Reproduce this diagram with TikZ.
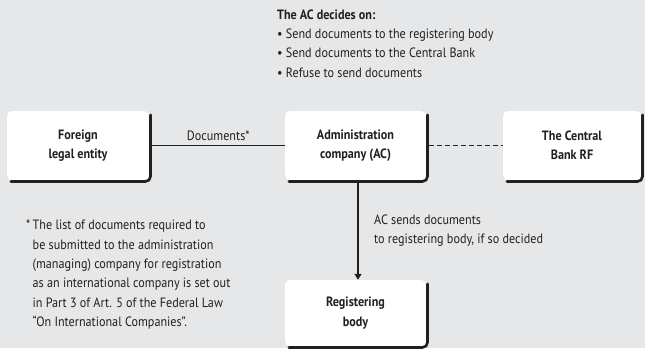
\documentclass[tikz,border=0pt]{standalone}
\usepackage{fontspec}
\setmainfont{PT Sans}[FakeStretch=0.9]
\usetikzlibrary{arrows.meta}
\definecolor{bg}{HTML}{E6E7E8}
\definecolor{txt}{HTML}{231F20}
\newcommand{\basefont}{\fontsize{13.5}{19.3}\selectfont}
\tikzset{
  box/.style={fill=white, rounded corners=5pt, inner sep=0pt, align=center,
    minimum width=141pt, minimum height=69pt, font=\basefont\bfseries},
  shadowline/.style={draw=txt, line width=2.6pt, rounded corners=5pt, line cap=round},
  txtblock/.style={inner sep=0pt, align=left, anchor=north west},
  conn/.style={line width=1.6pt, draw=txt}
}
\begin{document}
\begin{tikzpicture}[x=1pt,y=-1pt, font=\basefont, text=txt]
\fill[bg] (0,0) rectangle (645,348);
\useasboundingbox (0,0) rectangle (645,348);

\node[box, minimum width=142pt] (fe) at (78,145.5) {Foreign\\legal entity};
\node[box] (ac) at (355.5,145.5) {Administration\\company (AC)};
\node[box, minimum width=138pt] (cb) at (572,145.5) {The Central\\Bank RF};
\node[box, minimum height=66pt] (rb) at (355.5,313) {Registering\\body};

% shadow edges (right and bottom)
\foreach \n in {fe,ac,cb,rb}{
  \draw[shadowline] ([shift={(1.3pt,-4pt)}]\n.north east)
    -- ([shift={(1.3pt,-1.3pt)}]\n.south east)
    -- ([shift={(4pt,-1.3pt)}]\n.south west);
}

\draw[conn] ([xshift=2.6pt]fe.east) -- node[above=4pt, inner sep=0pt] (doclab) {Documents*} (ac.west);
\draw[conn, dash pattern=on 5pt off 3pt] ([xshift=2.6pt]ac.east) -- (cb.west);
\draw[conn, -{Triangle[length=6pt,width=7pt]}] ([xshift=2.5pt, yshift=-2.6pt]ac.south) -- ([xshift=2.5pt]rb.north);

\node[txtblock] (dec) at (277,9.5) {\textbf{The AC decides on:}\\
• Send documents to the registering body\\
• Send documents to the Central Bank\\
• Refuse to send documents};

\node[txtblock] (arrlab) at (374,214.5) {AC sends documents\\to registering body, if so decided};

\node[txtblock] (note) at (32.5,220) {\llap{*\,}The list of documents required to\\
be submitted to the administration\\
(managing) company for registration\\
as an international company is set out\\
in Part 3 of Art. 5 of the Federal Law\\
“On International Companies”.};
\end{tikzpicture}
\end{document}
